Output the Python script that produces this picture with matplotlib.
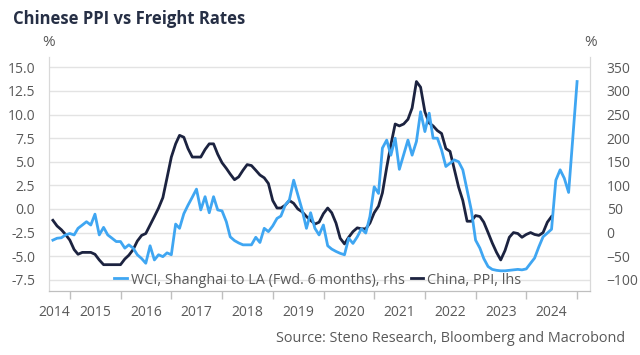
"""
Chinese PPI vs Freight Rates
"""

import matplotlib
matplotlib.use("Agg")
import matplotlib.pyplot as plt
import pandas as pd
from datetime import datetime

plt.rcParams['font.family'] = ['Open Sans', 'DejaVu Sans']

# monthly, Aug 2014 onwards (month-end)
ppi_start = '2014-08-31'
ppi = [
    -1.2, -1.8, -2.2, -2.7, -3.3,
    -4.3, -4.8, -4.6, -4.6, -4.6, -4.8, -5.4, -5.9, -5.9, -5.9, -5.9, -5.9,
    -5.3, -4.9, -4.3, -3.4, -2.8, -2.6, -1.7, -0.8, 0.1, 1.2, 3.3, 5.5,
    6.9, 7.8, 7.6, 6.4, 5.5, 5.5, 5.5, 6.3, 6.9, 6.9, 5.8, 4.9,
    4.3, 3.7, 3.1, 3.4, 4.1, 4.7, 4.6, 4.1, 3.6, 3.3, 2.7, 0.9,
    0.1, 0.1, 0.4, 0.9, 0.6, 0.0, -0.3, -0.8, -1.2, -1.6, -1.4, -0.5,
    0.1, -0.4, -1.5, -3.1, -3.7, -3.0, -2.4, -2.0, -2.1, -2.1, -1.5, -0.4,
    0.3, 1.7, 4.4, 6.8, 9.0, 8.8, 9.0, 9.5, 10.7, 13.5, 12.9, 10.3,
    9.1, 8.8, 8.3, 8.0, 6.4, 6.1, 4.2, 2.3, 0.9, -1.3, -1.3, -0.7,
    -0.8, -1.4, -2.5, -3.6, -4.6, -5.4, -4.4, -3.0, -2.5, -2.6, -3.0, -2.7,
    -2.5, -2.7, -2.8, -2.5, -1.4, -0.8,
]

wci_start = '2014-08-31'
wci = [
    -16, -12, -11, -5, -2, -5, 9, 16, 23, 16, 39, -5, 11, -5, -12, -19,
    -19, -33, -26, -33, -47, -55, -65, -28, -58, -47, -51, -43, -47, 18,
    9, 40, 58, 75, 92, 48, 76, 42, 76, 48, 46, 23, -9, -17, -22, -26,
    -26, -26, -10, -21, 9, 2, 14, 30, 35, 58, 69, 111, 80, 48, 9, 42,
    9, -5, 16, -28, -35, -40, -44, -47, -12, -23, -9, 8, -1, 34, 97, 83,
    179, 196, 164, 200, 134, 165, 196, 164, 193, 256, 214, 253, 200, 200, 175, 140,
    147, 154, 150, 133, 90, 48, -16, -33, -55, -72, -78, -80, -81, -81, -80, -79,
    -78, -79, -77, -65, -54, -30, -9, -1, 7, 111, 133, 115, 85, 200, 320,
]

years = list(range(2014, 2025))
left_ticks = [-7.5, -5.0, -2.5, 0.0, 2.5, 5.0, 7.5, 10.0, 12.5, 15.0]
right_ticks = [-100, -50, 0, 50, 100, 150, 200, 250, 300, 350]

ppi_dates = pd.date_range(ppi_start, periods=len(ppi), freq='ME')
wci_dates = pd.date_range(wci_start, periods=len(wci), freq='ME')

grey = '#595959'
navy = '#1c2340'
blue = '#3fa6f2'

fig = plt.figure(figsize=(6.4, 3.55), dpi=100)
ax = fig.add_axes([49/640, 1 - 291/355, 541/640, 234/355])
ax2 = ax.twinx()

ax.plot(ppi_dates, ppi, color=navy, lw=2.0, label='China, PPI, lhs', zorder=3)
ax2.plot(wci_dates, wci, color=blue, lw=2.0, label='WCI, Shanghai to LA (Fwd. 6 months), rhs')

ax.set_ylim(-8.69, 16.1)
ax2.set_ylim(-123.8, 372)
ax.set_yticks(left_ticks)
ax.set_yticklabels([f'{v:.1f}' for v in left_ticks])
ax2.set_yticks(right_ticks)
ax.grid(axis='y', color='#e3e3e3', lw=1)
ax.set_axisbelow(True)

ax.set_xlim(datetime(2014, 8, 3), datetime(2025, 4, 3))
ax.set_xticks([datetime(y, 1, 1) for y in range(2015, 2026)])
ax.set_xticklabels([])
label_pos = [datetime(2014, 9, 7)] + [datetime(y, 7, 1) for y in years[1:]]
ax.set_xticks(label_pos, minor=True)
ax.set_xticklabels([str(y) for y in years], minor=True)
ax.tick_params(axis='x', which='major', length=6, color='#bfbfbf', width=1)
ax.tick_params(axis='x', which='minor', length=0, pad=10, labelsize=10, labelcolor=grey)
ax.tick_params(axis='y', length=0, pad=10, labelsize=10, labelcolor=grey)
ax2.tick_params(axis='y', length=0, pad=12, labelsize=10, labelcolor=grey)

for a in (ax, ax2):
    a.spines['top'].set_visible(False)
    a.spines['left'].set_color('#d9d9d9')
    a.spines['right'].set_color('#d9d9d9')
    a.spines['bottom'].set_color('#bfbfbf')

h1, l1 = ax2.get_legend_handles_labels()
h2, l2 = ax.get_legend_handles_labels()
ax2.legend(h1 + h2, l1 + l2, ncol=2, loc='center', bbox_to_anchor=(0.497, 0.047),
           frameon=False, fontsize=10.4, labelcolor=grey, handlelength=0.85,
           handletextpad=0.3, columnspacing=0.4, borderpad=0, borderaxespad=0)

fig.text(13/640, 1 - 19/355, 'Chinese PPI vs Freight Rates', fontsize=12, fontweight='bold',
         color='#262f45', va='center', ha='left')
fig.text(49/640, 1 - 43/355, '%', fontsize=11, color=grey, ha='center', va='center')
fig.text(591/640, 1 - 43/355, '%', fontsize=11, color=grey, ha='center', va='center')
fig.text(625/640, 1 - 338/355, 'Source: Steno Research, Bloomberg and Macrobond',
         fontsize=10.4, color=grey, ha='right', va='center')

fig.savefig('out.png', dpi=100)
